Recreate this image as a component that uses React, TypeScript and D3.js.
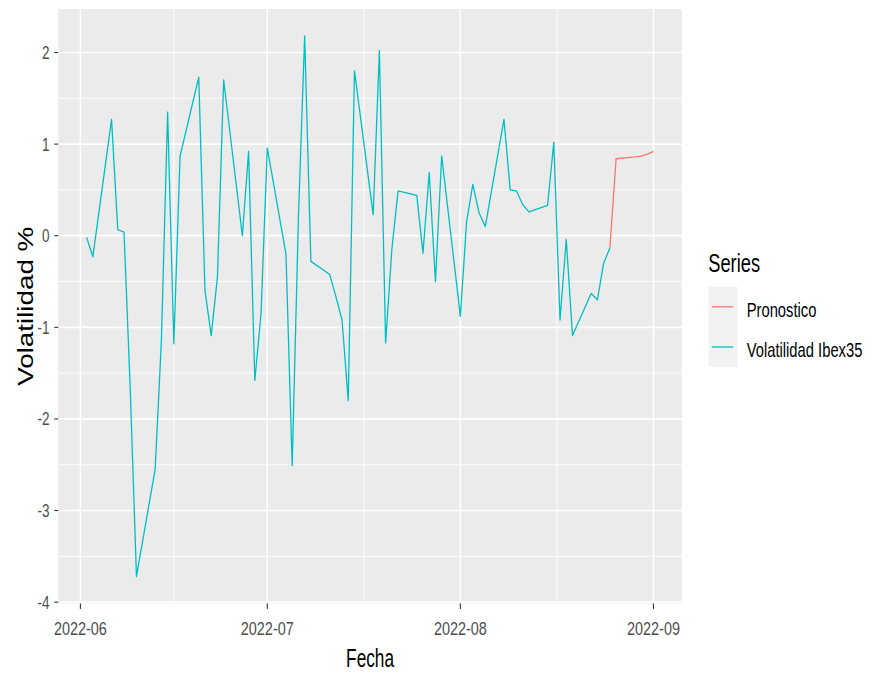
import React from "react";
import * as d3 from "d3";

const volDates = [
  "2022-06-02","2022-06-03","2022-06-06","2022-06-07","2022-06-08","2022-06-09","2022-06-10",
  "2022-06-13","2022-06-14","2022-06-15","2022-06-16","2022-06-17","2022-06-20","2022-06-21",
  "2022-06-22","2022-06-23","2022-06-24","2022-06-27","2022-06-28","2022-06-29","2022-06-30",
  "2022-07-01","2022-07-04","2022-07-05","2022-07-06","2022-07-07","2022-07-08","2022-07-11",
  "2022-07-12","2022-07-13","2022-07-14","2022-07-15","2022-07-18","2022-07-19","2022-07-20",
  "2022-07-21","2022-07-22","2022-07-25","2022-07-26","2022-07-27","2022-07-28","2022-07-29",
  "2022-08-01","2022-08-02","2022-08-03","2022-08-04","2022-08-05","2022-08-08","2022-08-09",
  "2022-08-10","2022-08-11","2022-08-12","2022-08-15","2022-08-16","2022-08-17","2022-08-18",
  "2022-08-19","2022-08-22","2022-08-23","2022-08-24","2022-08-25"
];
const volValues = [
  -0.02, -0.23, 1.27, 0.065, 0.04, -1.67, -3.72,
  -2.55, -1.15, 1.35, -1.18, 0.87, 1.73, -0.6,
  -1.09, -0.45, 1.7, 0.0, 0.92, -1.58, -0.85,
  0.96, -0.2, -2.51, 0.2, 2.18, -0.28, -0.42,
  -0.66, -0.92, -1.8, 1.8, 0.23, 2.02, -1.17,
  -0.15, 0.49, 0.44, -0.19, 0.69, -0.5, 0.87,
  -0.88, 0.15, 0.56, 0.25, 0.1, 1.27, 0.5,
  0.49, 0.34, 0.26, 0.33, 1.02, -0.92, -0.04,
  -1.09, -0.63, -0.7, -0.3, -0.135
];
const fcDates = ["2022-08-25","2022-08-26","2022-08-29","2022-08-30","2022-08-31","2022-09-01"];
const fcValues = [-0.135, 0.84, 0.86, 0.87, 0.89, 0.92];

const xTickDates = ["2022-06-01","2022-07-01","2022-08-01","2022-09-01"];
const xTickLabels = ["2022-06","2022-07","2022-08","2022-09"];
const yTicks = [-4, -3, -2, -1, 0, 1, 2];

const seriesNames = ["Pronostico", "Volatilidad Ibex35"];
const seriesColors = ["#F8766D", "#00BFC4"];

const parse = (s: string) => {
  const [y, m, d] = s.split("-").map(Number);
  return new Date(Date.UTC(y, m - 1, d));
};

const W = 872, H = 673;
const P = { left: 58.3, right: 681.8, top: 9, bottom: 603.5 };
const FONT = "'Liberation Sans', Arial, sans-serif";
const SX = 0.73;

export default function App() {
  const volData = volDates.map((d, i) => ({ date: parse(d), v: volValues[i] }));
  const fcData = fcDates.map((d, i) => ({ date: parse(d), v: fcValues[i] }));
  const all = [...volData, ...fcData];

  const xExt = d3.extent(all, (d) => d.date.getTime()) as [number, number];
  const xPad = (xExt[1] - xExt[0]) * 0.05;
  const x = d3.scaleUtc().domain([new Date(xExt[0] - xPad), new Date(xExt[1] + xPad)]).range([P.left, P.right]);

  const yExt = d3.extent(all, (d) => d.v) as [number, number];
  const yPad = (yExt[1] - yExt[0]) * 0.05;
  const y = d3.scaleLinear().domain([yExt[0] - yPad, yExt[1] + yPad]).range([P.bottom, P.top]);

  const line = d3.line<{ date: Date; v: number }>().x((d) => x(d.date)).y((d) => y(d.v));

  const xMajor = xTickDates.map(parse);
  const xMinor: Date[] = [];
  for (let i = 0; i < xMajor.length - 1; i++) {
    xMinor.push(new Date((xMajor[i].getTime() + xMajor[i + 1].getTime()) / 2));
  }
  const yMinor: number[] = [];
  for (let i = 0; i < yTicks.length - 1; i++) yMinor.push((yTicks[i] + yTicks[i + 1]) / 2);

  const legendX = 708.3;
  const keyTop = 286.7;
  const keyH = 40.2;

  return (
    <svg width={W} height={H} style={{ position: "absolute", left: 0, top: 0, background: "#fff" }} fontFamily={FONT}>
      <rect x={P.left} y={P.top} width={P.right - P.left} height={P.bottom - P.top} fill="#EBEBEB" />
      {yMinor.map((v) => (
        <line key={"ym" + v} x1={P.left} x2={P.right} y1={y(v)} y2={y(v)} stroke="#fff" strokeWidth={0.9} />
      ))}
      {xMinor.map((d, i) => (
        <line key={"xm" + i} x1={x(d)} x2={x(d)} y1={P.top} y2={P.bottom} stroke="#fff" strokeWidth={0.9} />
      ))}
      {yTicks.map((v) => (
        <line key={"yM" + v} x1={P.left} x2={P.right} y1={y(v)} y2={y(v)} stroke="#fff" strokeWidth={1.7} />
      ))}
      {xMajor.map((d, i) => (
        <line key={"xM" + i} x1={x(d)} x2={x(d)} y1={P.top} y2={P.bottom} stroke="#fff" strokeWidth={1.5} />
      ))}

      <path d={line(volData) || ""} fill="none" stroke={seriesColors[1]} strokeWidth={1.3} strokeLinejoin="round" />
      <path d={line(fcData) || ""} fill="none" stroke={seriesColors[0]} strokeWidth={1.3} strokeLinejoin="round" />

      {yTicks.map((v) => (
        <g key={"yt" + v}>
          <line x1={P.left - 4} x2={P.left} y1={y(v)} y2={y(v)} stroke="#333" strokeWidth={1.1} />
          <text transform={`translate(49.5, ${y(v) + 6.5}) scale(${SX},1)`} textAnchor="end" fontSize={18.5} fill="#4D4D4D">
            {v}
          </text>
        </g>
      ))}
      {xMajor.map((d, i) => (
        <g key={"xt" + i}>
          <line x1={x(d)} x2={x(d)} y1={P.bottom} y2={P.bottom + 5.5} stroke="#333" strokeWidth={1.1} />
          <text transform={`translate(${x(d)}, 635) scale(0.78,1)`} textAnchor="middle" fontSize={18.5} fill="#4D4D4D">
            {xTickLabels[i]}
          </text>
        </g>
      ))}

      <text transform={`translate(${(P.left + P.right) / 2}, 666.7) scale(0.69,1)`} textAnchor="middle" fontSize={25} fill="#000">
        Fecha
      </text>
      <text transform={`translate(33.3, ${(P.top + P.bottom) / 2}) rotate(-90)`} textAnchor="middle" fontSize={22.5} fill="#000" textLength={159} lengthAdjust="spacingAndGlyphs">
        Volatilidad %
      </text>

      <text transform={`translate(${legendX}, 271.7) scale(0.73,1)`} fontSize={25} fill="#000">
        Series
      </text>
      <rect x={legendX} y={keyTop} width={29.4} height={keyH * 2} fill="#F2F2F2" />
      {seriesNames.map((name, i) => {
        const cy = keyTop + keyH * i + keyH / 2;
        return (
          <g key={name}>
            <line x1={711.7} x2={733.3} y1={cy} y2={cy} stroke={seriesColors[i]} strokeWidth={1.3} />
            <text transform={`translate(746.7, ${cy + 9.8}) scale(0.72,1)`} fontSize={20.5} fill="#000">
              {name}
            </text>
          </g>
        );
      })}
    </svg>
  );
}
